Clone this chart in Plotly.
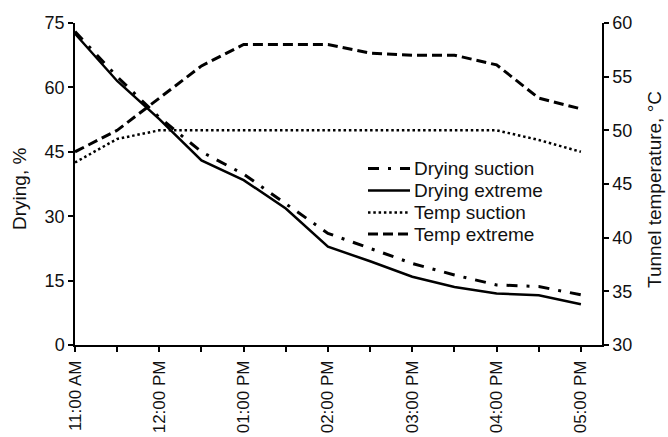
import plotly.graph_objects as go

times = ["11:00 AM", "11:30 AM", "12:00 PM", "12:30 PM", "01:00 PM", "01:30 PM",
         "02:00 PM", "02:30 PM", "03:00 PM", "03:30 PM", "04:00 PM", "04:30 PM", "05:00 PM"]
hour_labels = ["11:00 AM", "", "12:00 PM", "", "01:00 PM", "", "02:00 PM", "",
               "03:00 PM", "", "04:00 PM", "", "05:00 PM"]

drying_suction = [73, 62.5, 53, 45, 39.8, 33, 26, 22.5, 19, 16.3, 14, 13.6, 11.7]
drying_extreme = [72.5, 61.5, 52.6, 43, 38.4, 31.8, 22.9, 19.5, 15.9, 13.5, 12.0, 11.6, 9.5]
temp_suction = [47, 49.2, 50, 50, 50, 50, 50, 50, 50, 50, 50, 49.1, 48]
temp_extreme = [48, 50, 53, 56, 58, 58, 58, 57.2, 57, 57, 56.1, 53, 52]

series_names = ["Drying suction", "Drying extreme", "Temp suction", "Temp extreme"]
styles = [dict(color="black", width=3, dash="11px,9px,3px,9px"),
          dict(color="black", width=2.5, dash="solid"),
          dict(color="black", width=2.5, dash="2.5px,2.8px"),
          dict(color="black", width=3, dash="10px,5px")]
axes = ["y", "y", "y2", "y2"]
values = [drying_suction, drying_extreme, temp_suction, temp_extreme]

FONT = "Liberation Sans, Arial, sans-serif"
fig = go.Figure()
for name, vals, st, ax in zip(series_names, values, styles, axes):
    fig.add_trace(go.Scatter(x=times, y=vals, name=name, mode="lines", yaxis=ax,
                             line=st, showlegend=False))

L, R, T, B = 75, 602, 23, 345
W, H = 668, 437

def px(xp):
    return (xp - L) / (R - L)

def py(yp):
    return (B - yp) / (B - T)

# manual legend (compact row spacing like the reference)
row_px = [168.5, 190.5, 212.5, 234]
for name, st, ypx in zip(series_names, styles, row_px):
    fig.add_shape(type="line", xref="paper", yref="paper",
                  x0=px(368), x1=px(410), y0=py(ypx), y1=py(ypx), line=st)
    fig.add_annotation(xref="paper", yref="paper", x=px(412), y=py(ypx),
                       xanchor="left", yanchor="middle", text=name, showarrow=False,
                       font=dict(size=19))

# axis titles
fig.add_annotation(xref="paper", yref="paper", x=px(19), y=py(189), text="Drying, %",
                   textangle=-90, showarrow=False, xanchor="center", yanchor="middle",
                   font=dict(size=19))
fig.add_annotation(xref="paper", yref="paper", x=px(655), y=py(190),
                   text="Tunnel temperature, °C", textangle=-90, showarrow=False,
                   xanchor="center", yanchor="middle", font=dict(size=19))

axis_common = dict(ticks="outside", ticklen=5, tickwidth=1.5, tickcolor="black",
                   showline=True, linecolor="black", linewidth=1.5, showgrid=False,
                   zeroline=False, automargin=False)

fig.update_layout(
    width=W, height=H,
    margin=dict(l=L, r=W - R, t=T, b=H - B),
    paper_bgcolor="white", plot_bgcolor="white",
    font=dict(family=FONT, size=18, color="#111"),
    showlegend=False,
    xaxis=dict(type="category", range=[0, 12.5], tickmode="array", tickvals=times,
               ticktext=hour_labels, tickangle=-90, ticklabelstandoff=2,
               tickfont=dict(size=17), **axis_common),
    yaxis=dict(range=[0, 75], dtick=15, tick0=0, **axis_common),
    yaxis2=dict(range=[30, 60], dtick=5, tick0=30, overlaying="y", side="right",
                **axis_common),
)
fig.write_html("out.html")
